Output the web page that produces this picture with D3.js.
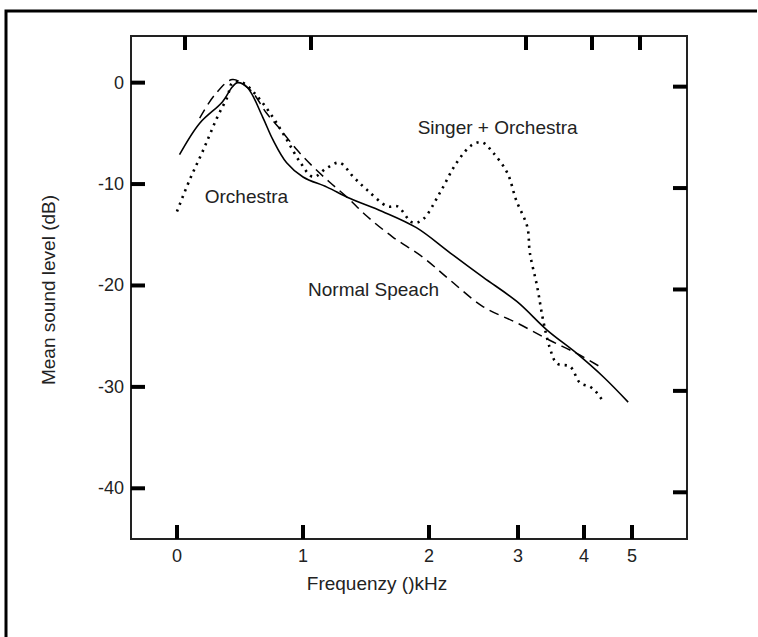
<!DOCTYPE html>
<html>
<head>
<meta charset="utf-8">
<script src="https://cdn.jsdelivr.net/npm/d3@7"></script>
<style>
  body { margin: 0; background: #fff; }
  text { font-family: "Liberation Sans", Arial, sans-serif; fill: #222; }
</style>
</head>
<body>
<svg id="chart" width="758" height="637"></svg>
<script>
var x_ticks = [0, 1, 2, 3, 4, 5]
var x_top_ticks = [0, 1, 3, 4, 5]
var y_ticks = [0, -10, -20, -30, -40]

// [kHz, dB]
var orchestra = [[0.02,-7.1],[0.18,-4.0],[0.36,-1.9],[0.44,-0.4],[0.48,0],[0.56,-0.5],[0.68,-3.4],[0.76,-5.6],[0.87,-7.9],[1.0,-9.3],[1.19,-10.3],[1.37,-11.4],[1.63,-12.7],[1.9,-14.3],[2.24,-16.8],[2.61,-19.2],[2.99,-21.6],[3.44,-24.4],[3.89,-26.7],[4.4,-29.0],[4.92,-31.5]]
var speech = [[0.18,-3.5],[0.3,-1.2],[0.44,0.3],[0.58,-0.7],[0.71,-3.0],[0.82,-4.6],[0.95,-6.6],[1.08,-8.3],[1.21,-9.8],[1.35,-11.3],[1.51,-13.2],[1.71,-15.2],[1.95,-17.2],[2.24,-19.5],[2.61,-22.1],[2.99,-23.7],[3.48,-25.4],[3.89,-26.7],[4.33,-28.0]]
var singer_orchestra = [[0,-12.7],[0.1,-9.6],[0.21,-6.6],[0.32,-3.4],[0.4,-1.4],[0.44,0],[0.52,0],[0.64,-1.4],[0.76,-3.4],[0.87,-5.6],[0.98,-7.9],[1.08,-9.3],[1.19,-8.4],[1.29,-7.9],[1.4,-9.3],[1.51,-10.6],[1.67,-12.2],[1.75,-12.2],[1.87,-13.8],[1.95,-13.5],[2.12,-10.9],[2.31,-7.9],[2.49,-6.1],[2.6,-5.9],[2.72,-6.9],[2.88,-8.9],[2.98,-11.6],[3.14,-14.2],[3.18,-16.8],[3.29,-20.1],[3.38,-23.4],[3.48,-26.1],[3.59,-27.7],[3.79,-28.0],[3.94,-29.6],[4.13,-30.0],[4.27,-30.6],[4.38,-31.3]]

var labels = [
  {text: "Singer + Orchestra", f: 1.91, db: -5.1},
  {text: "Orchestra", f: 0.22, db: -11.9},
  {text: "Normal Speach", f: 1.04, db: -21.0}
]

function draw_chart(){
  var svg = d3.select("#chart")
  var frame = {left: 131, right: 687, top: 36, bottom: 539}

  // outer box of the figure
  svg.append("path")
      .attr("d", "M6,637 V11 H757")
      .attr("fill", "none")
      .attr("stroke", "#000")
      .attr("stroke-width", 3)

  var x = d3.scaleLinear()
      .domain(x_ticks)
      .range([177, 303, 429, 518, 584, 632])
  var y = d3.scaleLinear()
      .domain([4.6, -45])
      .range([frame.top, frame.bottom])

  svg.append("rect")
      .attr("x", frame.left)
      .attr("y", frame.top)
      .attr("width", frame.right - frame.left)
      .attr("height", frame.bottom - frame.top)
      .attr("fill", "none")
      .attr("stroke", "#222")
      .attr("stroke-width", 2)

  var tick_len = 14
  var ticks = svg.append("g")
      .attr("stroke", "#000")
      .attr("stroke-width", 4)

  ticks.selectAll(".xb").data(x_ticks).enter().append("line")
      .attr("x1", function(d){ return x(d) }).attr("x2", function(d){ return x(d) })
      .attr("y1", frame.bottom).attr("y2", frame.bottom - tick_len)
  ticks.selectAll(".xt").data(x_top_ticks).enter().append("line")
      .attr("x1", function(d){ return x(d) + 8 }).attr("x2", function(d){ return x(d) + 8 })
      .attr("y1", frame.top).attr("y2", frame.top + tick_len)
  ticks.selectAll(".yl").data(y_ticks).enter().append("line")
      .attr("x1", frame.left).attr("x2", frame.left + tick_len)
      .attr("y1", function(d){ return y(d) }).attr("y2", function(d){ return y(d) })
  ticks.selectAll(".yr").data(y_ticks).enter().append("line")
      .attr("x1", frame.right).attr("x2", frame.right - tick_len)
      .attr("y1", function(d){ return y(d) + 4 }).attr("y2", function(d){ return y(d) + 4 })

  var font_size = 19
  svg.selectAll(".xlab").data(x_ticks).enter().append("text")
      .attr("x", function(d){ return x(d) })
      .attr("y", frame.bottom + 23)
      .attr("text-anchor", "middle")
      .attr("font-size", font_size - 1)
      .text(function(d){ return d })
  svg.selectAll(".ylab").data(y_ticks).enter().append("text")
      .attr("x", frame.left - 7)
      .attr("y", function(d){ return y(d) + 6 })
      .attr("text-anchor", "end")
      .attr("font-size", font_size - 1)
      .text(function(d){ return d })

  svg.append("text")
      .attr("x", 377)
      .attr("y", 590)
      .attr("text-anchor", "middle")
      .attr("font-size", font_size)
      .text("Frequenzy ()kHz")
  svg.append("text")
      .attr("transform", "translate(55,290) rotate(-90)")
      .attr("text-anchor", "middle")
      .attr("font-size", font_size)
      .text("Mean sound level (dB)")

  var line = d3.line()
      .x(function(d){ return x(d[0]) })
      .y(function(d){ return y(d[1]) })
      .curve(d3.curveCatmullRom)

  svg.append("path")
      .datum(orchestra)
      .attr("d", line)
      .attr("fill", "none")
      .attr("stroke", "#000")
      .attr("stroke-width", 1.6)
  svg.append("path")
      .datum(speech)
      .attr("d", line)
      .attr("fill", "none")
      .attr("stroke", "#000")
      .attr("stroke-width", 1.5)
      .attr("stroke-dasharray", "10,6")
  svg.append("path")
      .datum(singer_orchestra)
      .attr("d", line)
      .attr("fill", "none")
      .attr("stroke", "#000")
      .attr("stroke-width", 2.6)
      .attr("stroke-dasharray", "2.2,5")

  svg.selectAll(".note").data(labels).enter().append("text")
      .attr("x", function(d){ return x(d.f) })
      .attr("y", function(d){ return y(d.db) })
      .attr("font-size", font_size)
      .text(function(d){ return d.text })
}

draw_chart()
</script>
</body>
</html>
